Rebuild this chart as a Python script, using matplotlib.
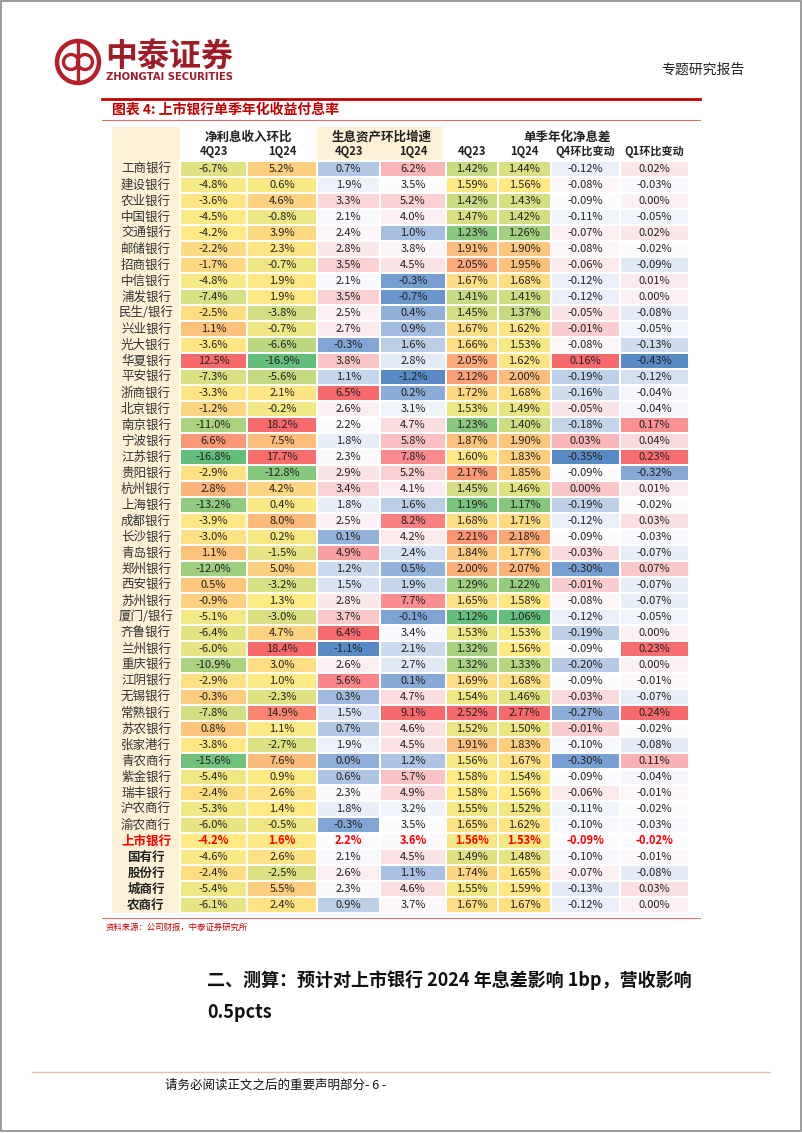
import numpy as np
import matplotlib
matplotlib.use('Agg')
import matplotlib.pyplot as plt
from matplotlib.colors import LinearSegmentedColormap, TwoSlopeNorm
from matplotlib.patches import Rectangle, Circle

plt.rcParams['font.family'] = ['Noto Sans CJK SC', 'DejaVu Sans']

# ---- data ----
banks = ['工商银行', '建设银行', '农业银行', '中国银行', '交通银行', '邮储银行', '招商银行',
         '中信银行', '浦发银行', '民生/银行', '兴业银行', '光大银行', '华夏银行', '平安银行',
         '浙商银行', '北京银行', '南京银行', '宁波银行', '江苏银行', '贵阳银行', '杭州银行',
         '上海银行', '成都银行', '长沙银行', '青岛银行', '郑州银行', '西安银行', '苏州银行',
         '厦门/银行', '齐鲁银行', '兰州银行', '重庆银行', '江阴银行', '无锡银行', '常熟银行',
         '苏农银行', '张家港行', '青农商行', '紫金银行', '瑞丰银行', '沪农商行', '渝农商行',
         '上市银行', '国有行', '股份行', '城商行', '农商行']

nii_4q23 = [-6.7, -4.8, -3.6, -4.5, -4.2, -2.2, -1.7, -4.8, -7.4, -2.5, 1.1, -3.6, 12.5, -7.3,
            -3.3, -1.2, -11.0, 6.6, -16.8, -2.9, 2.8, -13.2, -3.9, -3.0, 1.1, -12.0, 0.5, -0.9,
            -5.1, -6.4, -6.0, -10.9, -2.9, -0.3, -7.8, 0.8, -3.8, -15.6, -5.4, -2.4, -5.3, -6.0,
            -4.2, -4.6, -2.4, -5.4, -6.1]
nii_1q24 = [5.2, 0.6, 4.6, -0.8, 3.9, 2.3, -0.7, 1.9, 1.9, -3.8, -0.7, -6.6, -16.9, -5.6,
            2.1, -0.2, 18.2, 7.5, 17.7, -12.8, 4.2, 0.4, 8.0, 0.2, -1.5, 5.0, -3.2, 1.3,
            -3.0, 4.7, 18.4, 3.0, 1.0, -2.3, 14.9, 1.1, -2.7, 7.6, 0.9, 2.6, 1.4, -0.5,
            1.6, 2.6, -2.5, 5.5, 2.4]
ast_4q23 = [0.7, 1.9, 3.3, 2.1, 2.4, 2.8, 3.5, 2.1, 3.5, 2.5, 2.7, -0.3, 3.8, 1.1,
            6.5, 2.6, 2.2, 1.8, 2.3, 2.9, 3.4, 1.8, 2.5, 0.1, 4.9, 1.2, 1.5, 2.8,
            3.7, 6.4, -1.1, 2.6, 5.6, 0.3, 1.5, 0.7, 1.9, 0.0, 0.6, 2.3, 1.8, -0.3,
            2.2, 2.1, 2.6, 2.3, 0.9]
ast_1q24 = [6.2, 3.5, 5.2, 4.0, 1.0, 3.8, 4.5, -0.3, -0.7, 0.4, 0.9, 1.6, 2.8, -1.2,
            0.2, 3.1, 4.7, 5.8, 7.8, 5.2, 4.1, 1.6, 8.2, 4.2, 2.4, 0.5, 1.9, 7.7,
            -0.1, 3.4, 2.1, 2.7, 0.1, 4.7, 9.1, 4.6, 4.5, 1.2, 5.7, 4.9, 3.2, 3.5,
            3.6, 4.5, 1.1, 4.6, 3.7]
nim_4q23 = [1.42, 1.59, 1.42, 1.47, 1.23, 1.91, 2.05, 1.67, 1.41, 1.45, 1.67, 1.66, 2.05, 2.12,
            1.72, 1.53, 1.23, 1.87, 1.60, 2.17, 1.45, 1.19, 1.68, 2.21, 1.84, 2.00, 1.29, 1.65,
            1.12, 1.53, 1.32, 1.32, 1.69, 1.54, 2.52, 1.52, 1.91, 1.56, 1.58, 1.58, 1.55, 1.65,
            1.56, 1.49, 1.74, 1.55, 1.67]
nim_1q24 = [1.44, 1.56, 1.43, 1.42, 1.26, 1.90, 1.95, 1.68, 1.41, 1.37, 1.62, 1.53, 1.62, 2.00,
            1.68, 1.49, 1.40, 1.90, 1.83, 1.85, 1.46, 1.17, 1.71, 2.18, 1.77, 2.07, 1.22, 1.58,
            1.06, 1.53, 1.56, 1.33, 1.68, 1.46, 2.77, 1.50, 1.83, 1.67, 1.54, 1.56, 1.52, 1.62,
            1.53, 1.48, 1.65, 1.59, 1.67]
chg_q4 = [-0.12, -0.08, -0.09, -0.11, -0.07, -0.08, -0.06, -0.12, -0.12, -0.05, -0.01, -0.08, 0.16, -0.19,
          -0.16, -0.05, -0.18, 0.03, -0.35, -0.09, 0.00, -0.19, -0.12, -0.09, -0.03, -0.30, -0.01, -0.08,
          -0.12, -0.19, -0.09, -0.20, -0.09, -0.03, -0.27, -0.01, -0.10, -0.30, -0.09, -0.06, -0.11, -0.10,
          -0.09, -0.10, -0.07, -0.13, -0.12]
chg_q1 = [0.02, -0.03, 0.00, -0.05, 0.02, -0.02, -0.09, 0.01, 0.00, -0.08, -0.05, -0.13, -0.43, -0.12,
          -0.04, -0.04, 0.17, 0.04, 0.23, -0.32, 0.01, -0.02, 0.03, -0.03, -0.07, 0.07, -0.07, -0.07,
          -0.05, 0.00, 0.23, 0.00, -0.01, -0.07, 0.24, -0.02, -0.08, 0.11, -0.04, -0.01, -0.02, -0.03,
          -0.02, -0.01, -0.08, 0.03, 0.00]

group_labels = ['净利息收入环比', '生息资产环比增速', '单季年化净息差']
sub_labels = ['4Q23', '1Q24', '4Q23', '1Q24', '4Q23', '1Q24', 'Q4环比变动', 'Q1环比变动']

columns = [nii_4q23, nii_1q24, ast_4q23, ast_1q24, nim_4q23, nim_1q24, chg_q4, chg_q1]
decimals = [1, 1, 1, 1, 2, 2, 2, 2]

# ---- styles ----
gyr = LinearSegmentedColormap.from_list('gyr', ['#63BE7B', '#FFEB84', '#F8696B'])
bwr = LinearSegmentedColormap.from_list('bwr', ['#5A8AC6', '#FCFCFF', '#F8696B'])
cmaps = [gyr, gyr, bwr, bwr, gyr, gyr, bwr, bwr]

RED = '#C00000'
CREAM = '#FDF1D6'
col_edges = [180, 247, 317, 380, 446, 498, 551, 620, 689]
row_top, row_h = 161, 16
n = len(banks)
row_edges = row_top + row_h * np.arange(n + 1)
row_mid = row_edges[:-1] + row_h / 2

fig = plt.figure(figsize=(8.02, 11.33), dpi=100)
ax = fig.add_axes([0, 0, 1, 1])
ax.set_xlim(0, 802)
ax.set_ylim(1133, 0)
ax.axis('off')

# page border
ax.add_patch(Rectangle((1, 1), 800, 1130, fill=False, ec='#8a8a8a', lw=1.2))

# logo
ax.add_patch(Circle((78, 62), 21, fill=False, ec='#B3202C', lw=3.2))
ax.add_patch(Circle((71, 62), 7.5, fill=False, ec='#B3202C', lw=2.4))
ax.add_patch(Circle((85, 62), 7.5, fill=False, ec='#B3202C', lw=2.4))
ax.plot([78, 78], [44, 80], color='#B3202C', lw=2.4)
ax.text(105, 57, '中泰证券', fontsize=23, fontweight='bold', color='#9E1B28', va='center', ha='left')
ax.text(106, 77, 'ZHONGTAI SECURITIES', fontsize=7.2, fontweight='bold', color='#9E1B28',
        family='DejaVu Sans', va='center', ha='left')
ax.text(745, 70, '专题研究报告', fontsize=10, color='#222222', va='center', ha='right')

# chart title
ax.plot([102, 700], [99, 99], color=RED, lw=2)
ax.text(112, 110, '图表 4: 上市银行单季年化收益付息率', fontsize=10, fontweight='bold',
        color=RED, va='center', ha='left')
ax.plot([102, 700], [120, 120], color='#E07070', lw=0.8)

# cream backgrounds
ax.add_patch(Rectangle((112, 127), 68, row_edges[-1] - 127, color=CREAM, lw=0))
ax.add_patch(Rectangle((col_edges[2], 127), col_edges[4] - col_edges[2] - 3, 34, color=CREAM, lw=0))

# header text
group_spans = [(0, 2), (2, 4), (4, 8)]
for lab, (a, b) in zip(group_labels, group_spans):
    ax.text((col_edges[a] + col_edges[b]) / 2, 137, lab, fontsize=9, fontweight='bold',
            ha='center', va='center', color='#222222')
for j, lab in enumerate(sub_labels):
    ax.text((col_edges[j] + col_edges[j + 1]) / 2, 152, lab, fontsize=8, fontweight='bold',
            ha='center', va='center', color='#222222')

# heatmap cells
for j, vals in enumerate(columns):
    v = np.array(vals)
    norm = TwoSlopeNorm(vmin=v.min(), vcenter=np.median(v), vmax=v.max())
    ax.pcolormesh([col_edges[j], col_edges[j + 1]], row_edges, v.reshape(-1, 1),
                  cmap=cmaps[j], norm=norm, edgecolors='white', linewidth=0.3)
    xc = (col_edges[j] + col_edges[j + 1]) / 2
    for i, val in enumerate(vals):
        is_total = banks[i] == '上市银行'
        ax.text(xc, row_mid[i], f'{val:.{decimals[j]}f}%', fontsize=8,
                fontweight='bold' if is_total else 'normal',
                color='#FF0000' if is_total else '#222222', ha='center', va='center')

# row labels
for i, name in enumerate(banks):
    if name == '上市银行':
        ax.text(146, row_mid[i], name, fontsize=9, fontweight='bold', color='#FF0000',
                ha='center', va='center')
    elif i > 42:
        ax.text(146, row_mid[i], name, fontsize=9, fontweight='bold', color='#222222',
                ha='center', va='center')
    else:
        ax.text(146, row_mid[i], name, fontsize=9, color='#333333', ha='center', va='center')

# source
ax.plot([102, 700], [918, 918], color='#E07070', lw=0.8)
ax.text(106, 927, '资料来源：公司财报，中泰证券研究所', fontsize=6, color=RED, ha='left', va='center')

# section heading
ax.text(207, 980, '二、测算：预计对上市银行 2024 年息差影响 1bp，营收影响', fontsize=13,
        fontweight='bold', color='#111111', ha='left', va='center')
ax.text(207, 1012, '0.5pcts', fontsize=13, fontweight='bold', color='#111111', ha='left', va='center')

# footer
ax.plot([32, 770], [1072, 1072], color='#D8C4BA', lw=1)
ax.text(165, 1085, '请务必阅读正文之后的重要声明部分- 6 -', fontsize=9, color='#111111',
        ha='left', va='center')

fig.savefig('out.png', dpi=100)
